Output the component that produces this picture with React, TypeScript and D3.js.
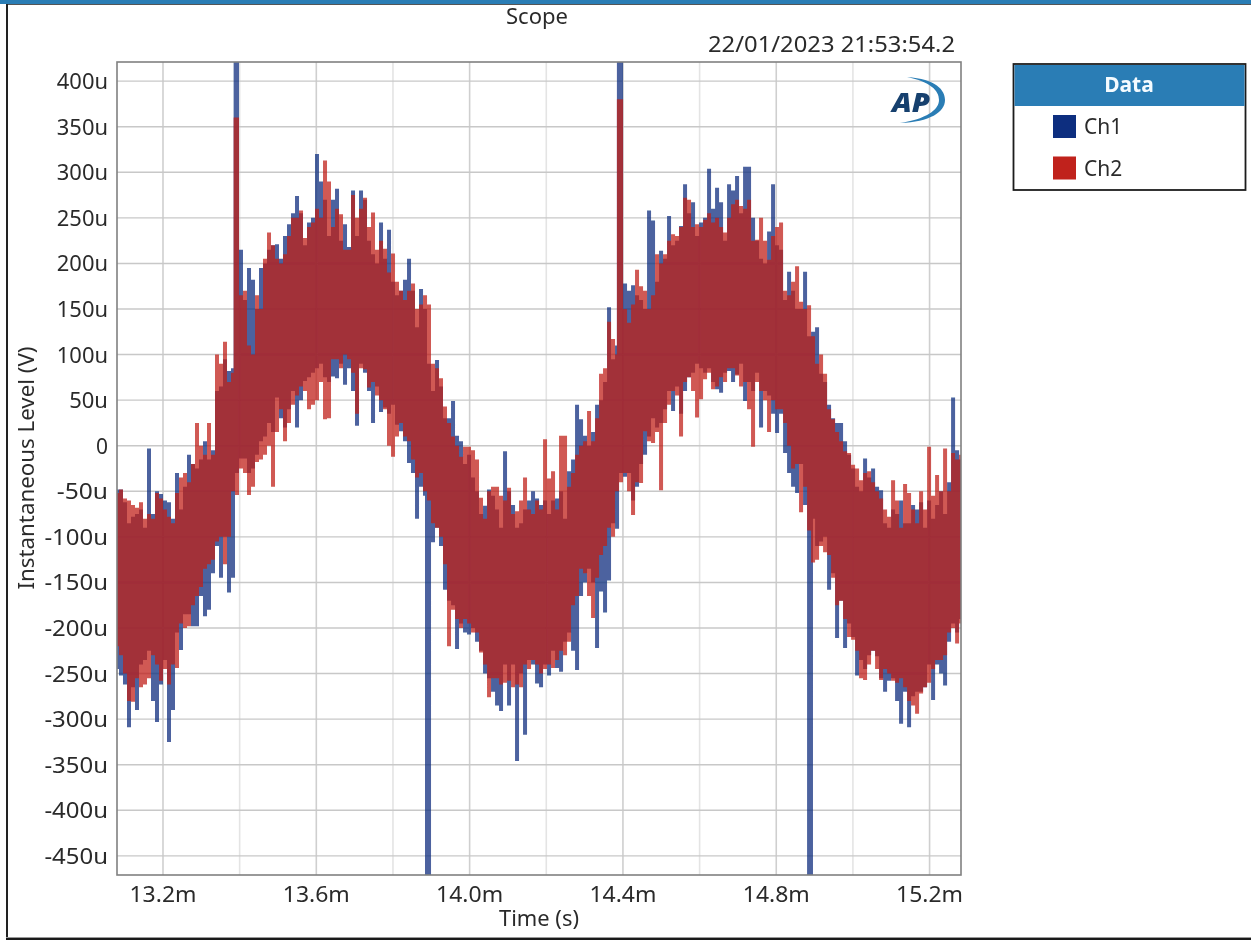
import React from "react";
import * as d3 from "d3";

const W = 1251, H = 941;
const yTicks = [400, 350, 300, 250, 200, 150, 100, 50, 0, -50, -100, -150, -200, -250, -300, -350, -400, -450];
const xMajor = [13.2, 13.6, 14.0, 14.4, 14.8, 15.2];
const xMinor = [13.4, 13.8, 14.2, 14.6, 15.0];
const sampleStart = 13.08;
const sampleStep = 0.010437;

const ch1Hi = [-48,-48,-62,-85,-78,-75,-70,-90,-3,-75,-50,-53,-60,-62,-80,-30,-70,-45,-10,-20,-25,-15,5,-15,-5,60,65,95,82,85,600,215,160,195,182,150,195,200,215,220,221,205,230,243,255,274,255,220,245,250,320,290,270,
230,270,282,225,243,218,280,230,280,270,225,210,200,245,205,237,180,165,170,182,205,170,130,172,150,90,60,94,65,30,30,49,11,5,-20,-10,-35,-50,-75,-66,-48,-55,-70,-90,-6,-50,-65,-90,-85,-70,-60,-50,
-58,-65,-60,-75,-60,-58,-50,-80,-28,-15,45,29,11,0,15,45,50,70,152,95,110,600,178,170,176,165,160,150,258,247,180,214,205,252,220,225,241,287,255,267,230,245,250,304,260,283,267,225,287,280,296,255,306,
306,250,225,205,200,235,287,220,215,160,191,170,150,150,191,120,125,130,79,70,45,30,25,25,5,-10,-25,-45,-50,-14,-35,-25,-45,-49,-85,-90,-70,-75,-60,-85,-85,-65,-70,-62,-90,-60,-80,-65,-50,-75,-40,53,-5,-15];
const ch2Hi = [-52,-48,-58,-60,-65,-68,-62,-80,-75,-80,-52,-58,-70,-78,-85,-52,-35,-30,-40,-20,25,0,-10,25,-10,100,90,114,70,80,360,165,170,110,100,165,150,205,234,220,205,200,210,230,250,250,258,228,240,245,260,250,313,
290,240,260,254,215,215,275,250,260,272,240,256,215,225,216,190,211,180,170,160,170,178,150,155,165,155,90,85,74,43,25,10,0,-12,-1,-1,-5,-15,-57,-80,-50,-45,-45,-55,-60,-46,-75,-72,-60,-35,-70,-75,
-60,-70,7,-36,-28,-70,11,11,-45,-30,-10,0,5,38,5,30,79,85,136,117,100,380,150,135,155,193,175,170,150,165,210,200,210,225,232,230,240,272,270,240,243,240,248,255,245,250,240,234,250,265,270,263,260,
270,225,226,250,225,204,230,240,245,170,165,180,197,158,150,154,120,90,100,79,40,29,15,5,-6,-8,-21,-25,-38,-30,-28,-40,-50,-58,-70,-78,-38,-60,-90,-42,-52,-70,-85,-50,-70,-1,-55,-32,-50,-3,-50,-8,-15,-10];
const ch1Lo = [-245,-252,-262,-309,-265,-290,-240,-235,-225,-280,-303,-262,-235,-325,-290,-205,-224,-185,-185,-198,-198,-165,-187,-180,-140,-110,-145,-100,-161,-145,-30,-14,-14,-30,-25,-10,5,10,25,15,53,30,20,40,60,20,50,71,75,80,85,90,75,
70,76,74,90,67,85,60,22,90,80,60,25,65,37,42,35,45,23,16,5,-19,-30,-80,-45,-55,-600,-106,-90,-110,-158,-170,-175,-223,-195,-205,-207,-200,-215,-225,-250,-255,-270,-285,-291,-240,-285,-240,-346,-250,-317,-235,-240,
-261,-265,-240,-252,-225,-244,-248,-215,-205,-225,-246,-165,-150,-135,-150,-222,-160,-183,-148,-85,-91,-30,-34,-30,-60,-45,-20,-10,10,30,20,25,40,60,38,65,35,60,75,80,90,85,80,85,70,62,58,80,82,70,78,90,49,
70,60,80,20,60,55,35,14,35,-8,-30,-45,-52,-20,-65,-600,-80,-110,-105,-100,-158,-140,-211,-170,-222,-195,-210,-252,-235,-245,-230,-225,-231,-255,-270,-258,-255,-280,-305,-270,-309,-275,-270,-270,-265,-240,-279,-240,-250,-263,-215,-195,-205,-190];
const ch2Lo = [-220,-230,-250,-280,-281,-255,-265,-262,-255,-230,-240,-258,-245,-262,-240,-244,-195,-200,-198,-175,-165,-155,-135,-130,-125,-105,-100,-130,-100,-50,-54,-25,-30,-54,-45,-18,-15,-10,0,-45,15,40,5,25,45,55,65,60,40,45,50,70,29,
30,95,95,85,100,95,80,35,85,84,64,70,55,50,40,0,-12,10,25,10,5,-15,-35,-30,-50,-60,-85,-90,-100,-130,-220,-180,-190,-200,-190,-195,-205,-205,-227,-240,-276,-255,-255,-262,-260,-258,-265,-262,-265,-240,-245,-235,
-240,-250,-245,-240,-244,-235,-225,-230,-215,-175,-165,-135,-140,-165,-189,-145,-120,-110,-90,-100,-50,-40,-30,-50,-76,-40,-41,16,5,3,15,-49,25,45,60,55,10,70,75,60,31,51,73,80,62,65,75,70,85,85,77,65,70,
40,-1,70,60,50,15,50,40,40,25,0,-25,-20,-73,-45,-93,-128,-125,-110,-117,-120,-145,-175,-170,-190,-210,-213,-225,-255,-257,-240,-225,-245,-257,-245,-250,-258,-260,-255,-265,-280,-285,-294,-272,-265,-260,-245,-235,-235,-230,-205,-200,-217,-195];

// Transient spikes: time in ms, top and bottom in uV.
const ch1SpikeT = [13.3895, 14.3895, 13.8888, 14.8906];
const ch1SpikeHi = [600, 600, 60, 90];
const ch1SpikeLo = [-20, -30, -600, -600];
const ch2SpikeT = [13.3895, 14.3895];
const ch2SpikeHi = [360, 380];
const ch2SpikeLo = [-20, -30];

const timestamp = "22/01/2023 21:53:54.2";
const seriesColors = ["#0f2f7f", "#c0201a"];
const legendNames = ["Ch1", "Ch2"];

const plot = { l: 117, t: 62, r: 961, b: 875 };
const x = d3.scaleLinear().domain([13.08, 15.282]).range([plot.l, plot.r]);
const y = d3.scaleLinear().domain([421, -471]).range([plot.t, plot.b]);

type Pt = { t: number; v: number } | null;
const columns = (hi: number[], lo: number[], spT: number[], spHi: number[], spLo: number[]): Pt[] => {
  const out: Pt[] = [];
  hi.forEach((h, i) => {
    const t = sampleStart + i * sampleStep;
    out.push({ t, v: h }, { t, v: lo[i] }, null);
  });
  spT.forEach((t, i) => {
    out.push({ t, v: spHi[i] }, { t, v: spLo[i] }, null);
  });
  return out;
};
const trace = d3.line<Pt>().defined((d) => d !== null).x((d) => x(d!.t)).y((d) => y(d!.v));

const FONT = "'Noto Sans', 'Open Sans', sans-serif";
const ink = "#2c2c2c";
const fmtY = (v: number) => (v === 0 ? "0" : `${v}u`);

export default function App() {
  return (
    <svg
      width={W}
      height={H}
      viewBox={`0 0 ${W} ${H}`}
      style={{ position: "fixed", left: 0, top: 0, display: "block", background: "#fff" }}
      fontFamily={FONT}
    >
      <defs>
        <clipPath id="plotClip">
          <rect x={plot.l} y={plot.t} width={plot.r - plot.l} height={plot.b - plot.t} />
        </clipPath>
        <filter id="soft" filterUnits="userSpaceOnUse" x={0} y={0} width={W} height={H}>
          <feGaussianBlur stdDeviation="0.6" />
        </filter>
        <filter id="softText" filterUnits="userSpaceOnUse" x={0} y={0} width={W} height={H}>
          <feGaussianBlur stdDeviation="0.4" />
        </filter>
      </defs>

      <rect x={0} y={0} width={W} height={H} fill="#fff" />
      {/* window frame */}
      <rect x={0} y={0} width={W} height={4} fill="#2a7db5" />
      <rect x={6} y={4} width={W - 6} height={1} fill="#555" />
      <rect x={6} y={4} width={2} height={H - 5} fill="#222" />
      <rect x={6} y={937} width={W - 6} height={1} fill="#999" />
      <rect x={6} y={938} width={W - 6} height={2} fill="#1a1a1a" />

      <g filter="url(#soft)">
        {/* grid */}
        {xMinor.map((v) => (
          <line key={v} x1={x(v)} x2={x(v)} y1={plot.t} y2={plot.b} stroke="#e4e4e4" strokeWidth={1.6} />
        ))}
        {xMajor.map((v) => (
          <line key={v} x1={x(v)} x2={x(v)} y1={plot.t} y2={plot.b} stroke="#cfcfcf" strokeWidth={1.6} />
        ))}
        {yTicks.map((v) => (
          <line key={v} x1={plot.l} x2={plot.r} y1={y(v)} y2={y(v)} stroke="#c8c8c8" strokeWidth={1.4} />
        ))}

        {/* traces */}
        <g clipPath="url(#plotClip)" fill="none" strokeLinecap="butt">
          <path d={trace(columns(ch1Hi, ch1Lo, ch1SpikeT, ch1SpikeHi, ch1SpikeLo)) ?? ""} stroke={seriesColors[0]} strokeWidth={4} strokeOpacity={0.75} />
          <path d={trace(columns(ch2Hi, ch2Lo, ch2SpikeT, ch2SpikeHi, ch2SpikeLo)) ?? ""} stroke={seriesColors[1]} strokeWidth={4} strokeOpacity={0.75} />
        </g>

        {/* plot border */}
        <rect x={plot.l} y={plot.t} width={plot.r - plot.l} height={plot.b - plot.t} fill="none" stroke="#808080" strokeWidth={1.6} />

        {/* AP logo */}
        <text x={892} y={112} fontSize={27} fontWeight={800} fontStyle="italic" fill="#163f6e" fontFamily="'Open Sans', sans-serif" textLength={38} lengthAdjust="spacingAndGlyphs">AP</text>
        <path d="M 907 77 C 936 79 945 90 945 100 C 945 112 930 122 900 123 C 926 119 939 110 939 100 C 939 90 930 82 907 77 Z" fill="#2a7db5" />
      </g>

      <g filter="url(#softText)">
        {/* tick labels */}
        <g fontSize={21} fill={ink}>
          {yTicks.map((v) => (
            <text key={v} x={108} y={y(v) + 0.5} dy="0.36em" textAnchor="end" textLength={v === 0 ? undefined : String(v).length * 12.4 + 14} lengthAdjust="spacingAndGlyphs">{fmtY(v)}</text>
          ))}
          {xMajor.map((v) => (
            <text key={v} x={x(v)} y={902} textAnchor="middle" textLength={67} lengthAdjust="spacingAndGlyphs">{`${v.toFixed(1)}m`}</text>
          ))}
        </g>

        {/* titles */}
        <g fontSize={21} fill={ink}>
          <text x={537} y={24} textAnchor="middle" textLength={62} lengthAdjust="spacingAndGlyphs">Scope</text>
          <text x={955} y={52} textAnchor="end" textLength={247} lengthAdjust="spacingAndGlyphs">{timestamp}</text>
          <text x={539} y={926} textAnchor="middle" textLength={80} lengthAdjust="spacingAndGlyphs">Time (s)</text>
          <text transform="translate(34,468) rotate(-90)" textAnchor="middle" textLength={243} lengthAdjust="spacingAndGlyphs">Instantaneous Level (V)</text>
        </g>

        {/* legend */}
        <g>
          <rect x={1013.5} y={64} width={232} height={126} fill="#fff" stroke="#1c1c1c" strokeWidth={1.8} />
          <rect x={1014.5} y={65} width={230} height={41} fill="#2a7db5" />
          <text x={1129} y={92} textAnchor="middle" fontSize={21} fontWeight={700} fill="#f4fbff">Data</text>
          {legendNames.map((name, i) => (
            <g key={name}>
              <rect x={1053} y={115 + i * 41.5} width={23} height={23} fill={seriesColors[i]} />
              <text x={1084} y={134 + i * 41.5} fontSize={21} fill={ink}>{name}</text>
            </g>
          ))}
        </g>
      </g>
    </svg>
  );
}
